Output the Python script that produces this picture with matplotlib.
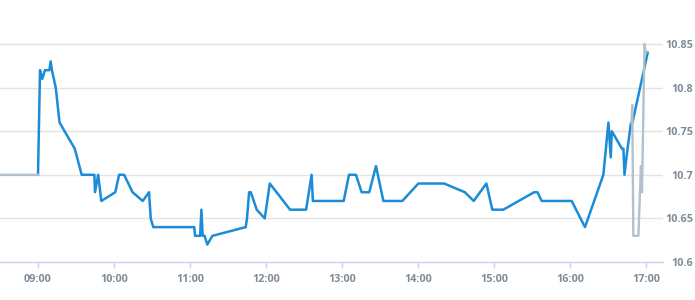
import matplotlib
matplotlib.use("Agg")
import matplotlib.pyplot as plt
import numpy as np

# Main (blue) series: time of day, price
blue_times = ["09:00:00", "09:01:36", "09:03:24", "09:05:30", "09:09:00", "09:10:00", "09:11:00",
              "09:14:00", "09:17:00", "09:29:00", "09:34:30", "09:44:30", "09:45:00", "09:47:30",
              "09:50:00", "10:01:00", "10:04:00", "10:08:00", "10:14:40", "10:22:40", "10:27:40",
              "10:29:00", "10:31:00", "11:03:20", "11:04:00", "11:08:00", "11:09:00", "11:10:00",
              "11:11:30", "11:13:40", "11:17:40", "11:44:00", "11:45:00", "11:46:40", "11:48:00",
              "11:52:40", "11:59:00", "12:03:00", "12:19:00", "12:31:40", "12:36:00", "12:37:00",
              "13:01:20", "13:05:30", "13:11:00", "13:15:30", "13:21:30", "13:26:50", "13:32:40",
              "13:47:40", "14:00:15", "14:20:40", "14:37:00", "14:44:00", "14:54:00", "14:58:40",
              "15:07:20", "15:31:40", "15:34:20", "15:37:40", "16:01:20", "16:11:50", "16:26:20",
              "16:30:20", "16:32:10", "16:33:00", "16:41:00", "16:42:10", "16:43:00", "16:45:00",
              "16:48:10", "16:49:20", "17:01:20"]
blue_values = [10.70, 10.82, 10.81, 10.82, 10.82, 10.83, 10.82,
               10.80, 10.76, 10.73, 10.70, 10.70, 10.68, 10.70,
               10.67, 10.68, 10.70, 10.70, 10.68, 10.67, 10.68,
               10.65, 10.64, 10.64, 10.63, 10.63, 10.66, 10.63,
               10.63, 10.62, 10.63, 10.64, 10.65, 10.68, 10.68,
               10.66, 10.65, 10.69, 10.66, 10.66, 10.70, 10.67,
               10.67, 10.70, 10.70, 10.68, 10.68, 10.71, 10.67,
               10.67, 10.69, 10.69, 10.68, 10.67, 10.69, 10.66,
               10.66, 10.68, 10.68, 10.67, 10.67, 10.64, 10.70,
               10.76, 10.72, 10.75, 10.73, 10.73, 10.70, 10.725,
               10.76, 10.76, 10.84]

# Secondary (grey) series, None marks a gap
grey_times = ["08:30:00", "09:00:00", None, "16:48:30", "16:49:10", "16:50:00", "16:54:00",
              "16:56:00", "16:56:50", "16:58:50", "17:00:00"]
grey_values = [10.70, 10.70, None, 10.76, 10.78, 10.63, 10.63, 10.71, 10.68, 10.85, 10.84]

x_ticks = [9, 10, 11, 12, 13, 14, 15, 16, 17]
x_tick_labels = ["09:00", "10:00", "11:00", "12:00", "13:00", "14:00", "15:00", "16:00", "17:00"]
y_ticks = [10.6, 10.65, 10.7, 10.75, 10.8, 10.85]
y_tick_labels = ["10.6", "10.65", "10.7", "10.75", "10.8", "10.85"]


def to_hours(t):
    if t is None:
        return np.nan
    h, m, s = (int(p) for p in t.split(":"))
    return h + m / 60 + s / 3600


bx = np.array([to_hours(t) for t in blue_times])
by = np.array(blue_values, dtype=float)
gx = np.array([to_hours(t) for t in grey_times])
gy = np.array([np.nan if v is None else v for v in grey_values], dtype=float)

fig = plt.figure(figsize=(6.95, 3.0), dpi=100)
ax = fig.add_axes([0.0, 38 / 300, 663 / 695, 262 / 300])

ax.plot(bx, by, color="#1a8cd8", lw=1.8, zorder=3, solid_joinstyle="round")
ax.plot(gx, gy, color="#b4c0ca", lw=1.7, zorder=4, solid_joinstyle="round")

ax.set_xlim(8.5, 8.5 + 663 / 76)
ax.set_ylim(10.6, 10.6 + 262 * 0.05 / 43.6)

ax.set_xticks(x_ticks)
ax.set_xticklabels(x_tick_labels)
ax.set_yticks(y_ticks)
ax.set_yticklabels(y_tick_labels)

ax.yaxis.tick_right()
ax.grid(axis="y", color="#e3e3e3", lw=1.0, zorder=0)
ax.grid(axis="x", visible=False)

for s in ["top", "left", "right"]:
    ax.spines[s].set_visible(False)
ax.spines["bottom"].set_color("#ccd6eb")
ax.spines["bottom"].set_linewidth(1.0)

label_color = "#7f8c98"
ax.tick_params(axis="x", colors="#ccd6eb", length=4, width=1, pad=4.5,
               labelcolor=label_color, labelsize=7.8)
ax.tick_params(axis="y", length=0, pad=21.5, labelcolor=label_color, labelsize=7.8)
for lab in ax.get_yticklabels():
    lab.set_horizontalalignment("right")
    lab.set_fontweight("bold")
    lab.set_family("Open Sans")
for lab in ax.get_xticklabels():
    lab.set_fontweight("bold")
    lab.set_family("Open Sans")

fig.savefig("out.png", dpi=100)
